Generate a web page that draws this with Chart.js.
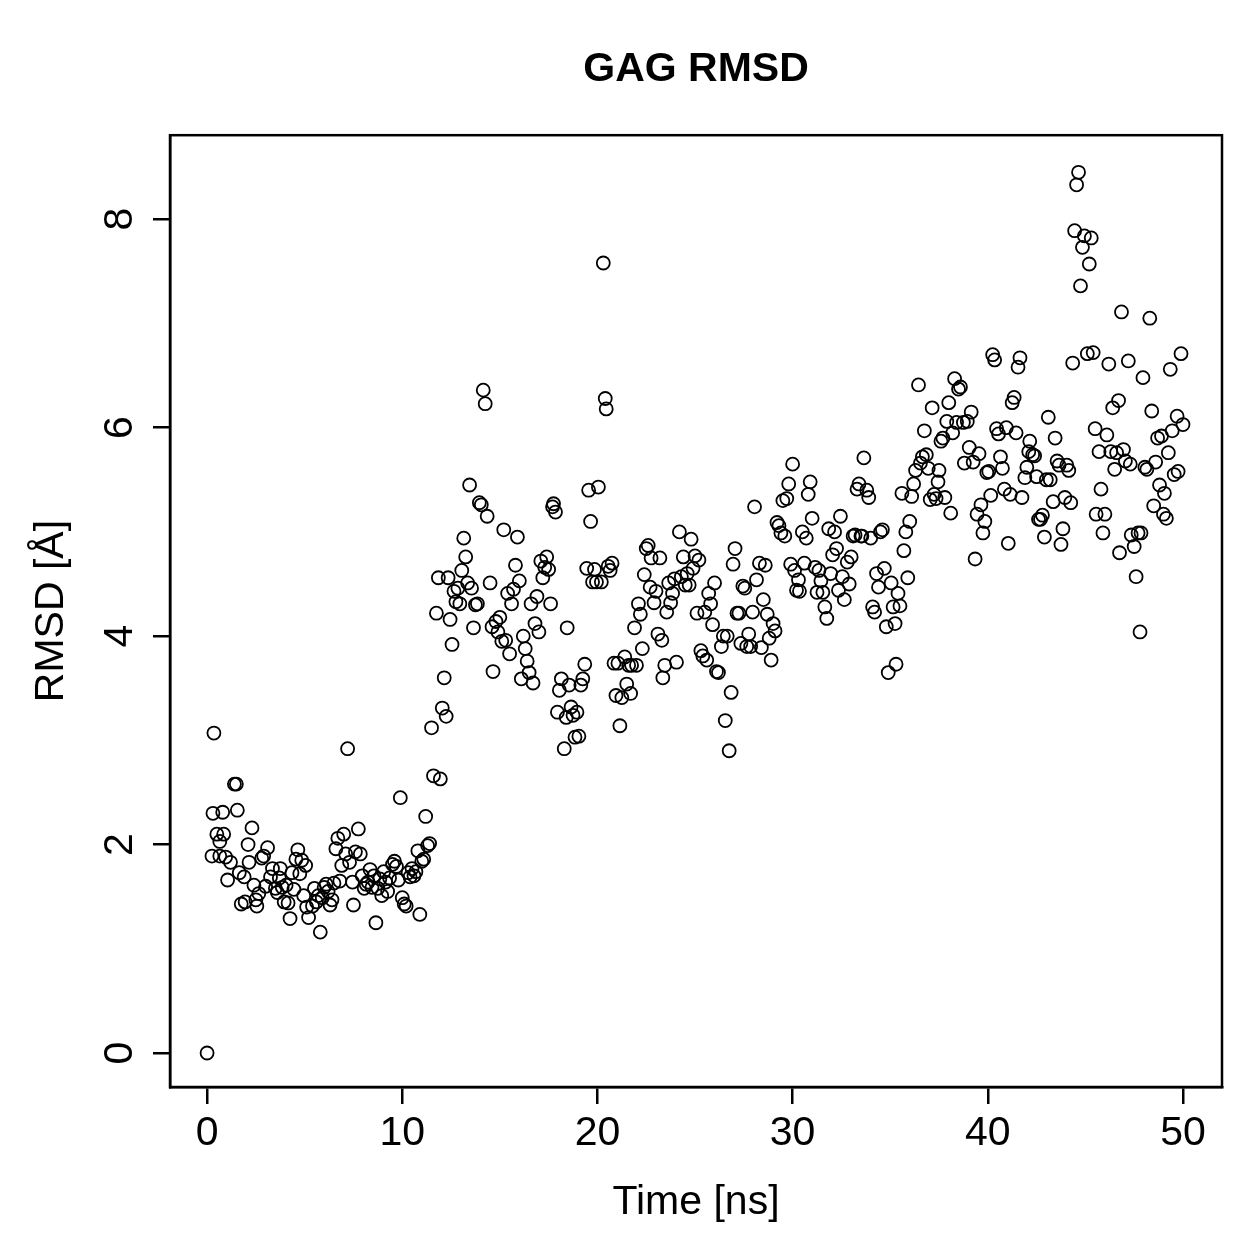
<!DOCTYPE html>
<html>
<head>
<meta charset="utf-8">
<script src="https://cdn.jsdelivr.net/npm/chart.js@4.4.1/dist/chart.umd.min.js"></script>
<style>
html,body{margin:0;padding:0;background:#fff;}
canvas{display:block;}
</style>
</head>
<body>
<canvas id="c" width="1259" height="1259" style="width:1259px;height:1259px"></canvas>
<script>
const chartTitle = 'GAG RMSD';
const xAxisTitle = 'Time [ns]';
const yAxisTitle = 'RMSD [Å]';
const xTicks = [0, 10, 20, 30, 40, 50];
const yTicks = [0, 2, 4, 6, 8];

const time = [
  0,0.3,0.35,0.25,0.5,0.65,0.65,0.8,0.85,0.95,1.05,1.2,1.4,1.5,1.55,1.65,1.75,1.9,1.95,2.1,2.15,2.3,2.4,2.5,2.55,2.65,2.8,2.9,3.0,3.1,3.25,3.35,3.5,3.6,3.7,3.75,3.85,3.95,4.05,4.15,4.25,4.35,4.45,4.55,4.65,4.75,4.85,4.95,
  5.05,5.1,5.2,5.4,5.5,5.6,5.7,5.8,5.9,6.0,6.1,6.2,6.3,6.4,6.5,6.6,6.7,6.8,6.9,7.0,7.1,7.2,7.3,7.45,7.5,7.6,7.75,7.85,7.95,8.05,8.15,8.25,8.35,8.45,8.55,8.65,8.75,8.85,8.95,9.05,9.15,9.25,9.35,9.5,9.6,9.7,9.8,9.9,10.0,
  10.1,10.2,10.3,10.4,10.5,10.6,10.7,10.8,10.9,11.0,11.1,11.2,11.3,11.4,11.5,11.6,11.75,11.85,11.95,12.05,12.15,12.25,12.35,12.45,12.55,12.65,12.75,12.85,12.95,13.05,13.15,13.25,13.35,13.45,13.55,13.65,13.75,13.85,13.95,14.05,14.15,14.25,14.35,14.5,14.6,14.65,14.8,14.9,
  15.0,15.1,15.2,15.3,15.4,15.5,15.6,15.7,15.8,15.9,16.0,16.1,16.2,16.3,16.4,16.5,16.6,16.7,16.8,16.9,17.0,17.1,17.2,17.3,17.4,17.5,17.6,17.7,17.75,17.85,17.95,18.05,18.15,18.3,18.4,18.45,18.55,18.65,18.75,18.85,18.95,19.05,19.15,19.25,19.35,19.45,19.55,19.65,19.75,19.85,
  19.95,20.05,20.2,20.3,20.4,20.45,20.55,20.65,20.75,20.85,20.95,21.05,21.15,21.25,21.4,21.5,21.6,21.7,21.75,21.9,22.0,22.1,22.2,22.3,22.4,22.5,22.6,22.7,22.75,22.9,23.0,23.1,23.2,23.3,23.35,23.45,23.55,23.65,23.75,23.85,23.95,24.05,24.2,24.3,24.4,24.5,24.6,24.7,24.8,24.9,
  25.0,25.1,25.2,25.3,25.4,25.5,25.6,25.7,25.8,25.9,26.0,26.1,26.2,26.35,26.45,26.55,26.65,26.75,26.85,26.95,27.05,27.15,27.25,27.35,27.45,27.55,27.65,27.75,27.85,27.95,28.05,28.15,28.3,28.4,28.5,28.6,28.7,28.8,28.9,29.0,29.1,29.2,29.3,29.4,29.5,29.6,29.7,29.8,29.9,
  30.0,30.1,30.2,30.3,30.35,30.5,30.6,30.7,30.8,30.9,31.0,31.15,31.25,31.35,31.45,31.55,31.65,31.75,31.85,31.95,32.05,32.15,32.25,32.35,32.45,32.55,32.65,32.8,32.9,33.0,33.1,33.2,33.3,33.4,33.5,33.55,33.65,33.8,33.9,34.0,34.1,34.2,34.3,34.4,34.5,34.6,34.7,34.8,34.9,
  35.05,35.15,35.25,35.3,35.4,35.5,35.6,35.7,35.8,35.9,36.0,36.1,36.2,36.3,36.45,36.55,36.65,36.75,36.85,36.95,37.05,37.15,37.25,37.35,37.45,37.5,37.6,37.7,37.8,37.9,38.0,38.1,38.2,38.3,38.4,38.5,38.6,38.75,38.8,38.95,39.05,39.15,39.25,39.35,39.45,39.55,39.65,39.75,39.85,
  39.95,40.05,40.15,40.25,40.35,40.45,40.55,40.65,40.75,40.85,40.95,41.05,41.15,41.25,41.35,41.45,41.55,41.65,41.75,41.9,42.0,42.1,42.15,42.3,42.4,42.5,42.6,42.7,42.8,42.9,43.0,43.1,43.2,43.35,43.45,43.55,43.65,43.75,43.85,43.95,44.05,44.15,44.25,44.35,44.45,44.55,44.65,44.75,44.85,
  44.95,45.1,45.2,45.3,45.4,45.5,45.55,45.7,45.8,45.9,46.0,46.1,46.2,46.3,46.4,46.5,46.6,46.7,46.75,46.85,46.95,47.05,47.2,47.3,47.35,47.5,47.6,47.7,47.8,47.85,47.95,48.05,48.15,48.3,48.4,48.5,48.6,48.7,48.8,48.9,49.0,49.05,49.15,49.25,49.35,49.45,49.55,49.7,49.75,49.9,50.0
];

const rmsd = [
  0,2.30,3.07,1.89,2.10,1.89,2.03,2.31,2.10,1.88,1.66,1.83,2.58,2.58,2.33,1.73,1.43,1.69,1.45,2.0,1.83,2.16,1.61,1.47,1.41,1.53,1.87,1.89,1.60,1.97,1.69,1.77,1.58,1.54,1.68,1.77,1.59,1.45,1.61,1.44,1.29,1.73,1.57,1.86,1.95,1.72,1.85,1.51,
  1.80,1.40,1.30,1.41,1.58,1.45,1.51,1.16,1.49,1.59,1.62,1.55,1.42,1.47,1.63,1.96,2.06,1.65,1.80,2.10,1.91,2.92,1.83,1.64,1.42,1.93,2.15,1.91,1.70,1.58,1.62,1.64,1.76,1.59,1.70,1.25,1.58,1.67,1.51,1.74,1.64,1.55,1.68,1.81,1.84,1.79,1.66,2.45,1.49,
  1.43,1.41,1.73,1.69,1.77,1.70,1.74,1.94,1.33,1.84,1.86,2.27,1.99,2.01,3.12,2.66,4.22,4.56,2.63,3.31,3.60,3.23,4.56,4.16,3.92,4.43,4.33,4.46,4.31,4.63,4.94,4.76,4.51,5.45,4.46,4.08,4.30,4.31,5.28,5.26,6.36,6.23,5.15,4.51,4.09,3.66,4.14,4.04,
  4.18,3.95,5.02,3.96,4.41,3.83,4.31,4.45,4.68,4.95,4.53,3.59,4.00,3.88,3.76,3.65,4.31,3.55,4.12,4.38,4.04,4.72,4.56,4.66,4.76,4.64,4.31,5.24,5.27,5.19,3.27,3.48,3.59,2.92,3.22,4.08,3.53,3.32,3.24,3.03,3.27,3.04,3.53,3.59,3.73,4.65,5.40,5.10,4.52,4.64,
  4.52,5.43,4.52,7.58,6.28,6.18,4.67,4.63,4.70,3.74,3.43,3.74,3.14,3.41,3.80,3.54,3.72,3.45,3.72,4.08,3.72,4.31,4.21,3.88,4.59,4.84,4.87,4.47,4.75,4.32,4.43,4.02,4.75,3.96,3.60,3.72,4.23,4.51,4.32,4.41,4.55,3.75,5.00,4.57,4.76,4.49,4.60,4.49,4.93,4.65,
  4.77,4.22,4.73,3.86,3.81,4.23,3.77,4.41,4.31,4.11,4.51,3.66,3.65,3.90,4.00,3.19,4.00,2.90,3.46,4.69,4.84,4.22,4.22,3.93,4.48,4.46,3.90,4.02,3.90,4.23,5.24,4.54,4.70,3.89,4.35,4.68,4.21,3.98,3.77,4.12,4.05,5.09,5.06,4.99,5.30,4.96,5.32,5.46,4.69,
  5.65,4.63,4.44,4.54,4.43,5.00,4.70,4.94,5.36,5.48,5.13,4.66,4.42,4.63,4.53,4.42,4.28,4.17,5.03,4.60,4.78,5.00,4.84,4.44,5.15,4.57,4.35,4.71,4.50,4.76,4.96,4.97,5.41,5.46,4.96,4.96,5.71,5.40,5.33,4.94,4.28,4.23,4.60,4.47,5.00,5.02,4.65,4.09,3.65,
  4.51,4.28,4.12,3.73,4.41,4.29,5.37,4.82,5.00,4.56,5.10,5.34,5.46,5.59,6.41,5.66,5.72,5.97,5.74,5.61,5.31,6.19,5.36,5.32,5.48,5.59,5.87,5.90,5.33,6.06,6.24,5.18,5.95,6.47,6.05,6.37,6.39,6.05,5.66,6.06,5.81,6.15,5.67,4.74,5.17,5.75,5.26,4.99,5.10,
  5.57,5.58,5.35,6.70,6.65,5.99,5.94,5.72,5.61,5.41,6.00,4.89,5.36,6.24,6.29,5.95,6.58,6.67,5.33,5.52,5.62,5.77,5.87,5.74,5.73,5.53,5.12,5.12,5.16,4.95,5.50,6.10,5.50,5.29,5.90,5.68,5.64,4.88,5.03,5.33,5.64,5.59,5.28,6.62,7.89,8.33,8.45,7.36,7.73,
  7.84,6.71,7.57,7.82,6.72,5.99,5.17,5.77,5.41,4.99,5.17,5.93,6.61,5.77,6.19,5.60,5.76,6.26,4.80,7.11,5.79,5.68,6.64,5.65,4.97,4.86,4.57,4.99,4.04,4.99,6.48,5.62,5.60,7.05,6.16,5.25,5.67,5.90,5.45,5.92,5.17,5.37,5.13,5.76,6.56,5.97,5.55,6.11,5.58,6.71,6.03
];

const FONT = '"Liberation Sans", Arial, Helvetica, sans-serif';
const n = Math.min(time.length, rmsd.length);
const points = [];
for (let i = 0; i < n; i++) points.push({x: time[i], y: rmsd[i]});

const boxPlugin = {
  id: 'box',
  afterDraw(chart) {
    const a = chart.chartArea, ctx = chart.ctx;
    ctx.save();
    ctx.strokeStyle = '#000';
    ctx.lineWidth = 2.5;
    ctx.strokeRect(a.left, a.top, a.right - a.left, a.bottom - a.top);
    ctx.restore();
  }
};

new Chart(document.getElementById('c'), {
  type: 'scatter',
  data: {
    datasets: [{
      data: points,
      borderColor: '#000',
      backgroundColor: 'rgba(0,0,0,0)',
      pointRadius: 6.5,
      pointHoverRadius: 6.5,
      pointBorderWidth: 1.8,
      showLine: false
    }]
  },
  options: {
    responsive: false,
    animation: false,
    devicePixelRatio: 1,
    layout: {padding: {left: 0, right: 37, top: 0, bottom: 0}},
    plugins: {
      legend: {display: false},
      tooltip: {enabled: false},
      title: {
        display: true,
        text: chartTitle,
        color: '#000',
        fullSize: false,
        font: {family: FONT, size: 41, weight: 'bold', lineHeight: 1.2},
        padding: {top: 45, bottom: 41}
      }
    },
    scales: {
      x: {
        type: 'linear',
        min: -1.9,
        max: 52,
        afterBuildTicks: s => { s.ticks = xTicks.map(v => ({value: v})); },
        afterFit: s => { s.height = 172; },
        ticks: {
          color: '#000', font: {family: FONT, size: 41, lineHeight: 1.2},
          padding: 5, minRotation: 0, maxRotation: 0, autoSkip: false
        },
        grid: {display: true, drawOnChartArea: false, drawTicks: true, tickLength: 17, color: '#000', lineWidth: 2.5},
        border: {display: true, color: '#000', width: 2.5},
        title: {display: true, text: xAxisTitle, color: '#000', font: {family: FONT, size: 41, lineHeight: 1.2}, padding: {top: 0, bottom: 32}}
      },
      y: {
        type: 'linear',
        min: -0.326,
        max: 8.806,
        afterBuildTicks: s => { s.ticks = yTicks.map(v => ({value: v})); },
        afterFit: s => { s.width = 170; },
        ticks: {
          color: '#000', font: {family: FONT, size: 41, lineHeight: 1.2},
          padding: 21, minRotation: 90, maxRotation: 90, crossAlign: 'center', autoSkip: false
        },
        grid: {display: true, drawOnChartArea: false, drawTicks: true, tickLength: 17, color: '#000', lineWidth: 2.5},
        border: {display: true, color: '#000', width: 2.5},
        title: {display: true, text: yAxisTitle, color: '#000', font: {family: FONT, size: 41, lineHeight: 1.2}, padding: {top: 27, bottom: 0}}
      }
    }
  },
  plugins: [boxPlugin]
});
</script>
</body>
</html>
